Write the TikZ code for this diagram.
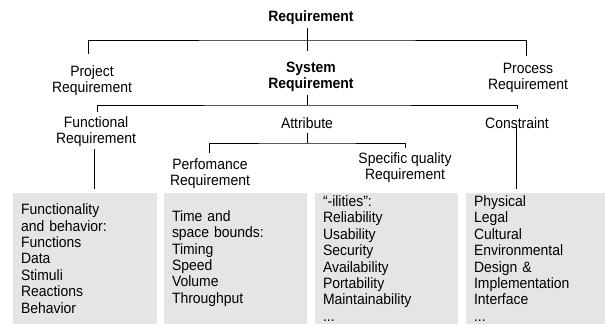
\documentclass[tikz,border=0pt]{standalone}
\usepackage{fontspec}
\setmainfont{Liberation Sans}[FakeStretch=0.93]
\usepackage{tikz}

\begin{document}
\begin{tikzpicture}[x=1pt, y=1pt, every node/.style={font=\fontsize{15}{16}\selectfont}, lbl/.style={align=center, inner sep=0pt}, hd/.style={lbl, font=\fontsize{15}{16}\selectfont\bfseries}, info/.style={fill=black!10, text width=127pt, inner xsep=8pt, inner ysep=0pt, minimum height=131pt, align=left, font=\fontsize{15}{16.4}\selectfont}, n/.style={line width=0.9pt}]
            \useasboundingbox (0,0) rectangle (605,-324);
            % nodes
            \node[hd] (req) at (311,-18) {Requirement};
            \node[lbl] (proj) at (92,-81) {Project\\Requirement};
            \node[hd] (sys) at (311,-77) {System\\Requirement};
            \node[lbl] (proc) at (528,-77.5) {Process\\Requirement};
            \node[lbl] (func) at (96,-132) {Functional\\Requirement};
            \node[lbl] (attr) at (307,-123) {Attribute};
            \node[lbl] (cons) at (517,-123) {Constraint};
            \node[lbl] (perf) at (210,-174) {Perfomance\\Requirement};
            \node[lbl] (spec) at (405,-168) {Specific quality\\Requirement};
            \node[info, text width=128pt] (fbox) at (85,-258.5) {Functionality\\and behavior:\\Functions\\Data\\Stimuli\\Reactions\\Behavior};
            \node[info] (pbox) at (235.5,-258.5) {Time and\\space bounds:\\Timing\\Speed\\Volume\\Throughput};
            \node[info] (qbox) at (386.5,-258.5) {“-ilities”:\\Reliability\\Usability\\Security\\Availability\\Portability\\Maintainability\\...};
            \node[info, text width=123pt] (cbox) at (535.5,-258.5) {Physical\\Legal\\Cultural\\Environmental\\Design \&\\Implementation\\Interface\\...};
            \coordinate (bar1) at (307,-40);
            \coordinate (bar2) at (307,-105);
            \coordinate (bar3) at (307,-143);
            % edges
            \draw [n, shorten <=3pt, shorten >=11pt] ([xshift=-4pt]req.south) -- ([xshift=-4pt]sys.north);
            \draw [n, shorten <=12pt, shorten >=7pt] ([xshift=-4pt]proj.north) |- (bar1) -| ([xshift=-2pt]proc.north);
            \draw [n, shorten <=3pt] ([xshift=-4pt]sys.south) -- (bar2);
            \draw [n, shorten <=5pt, shorten >=8pt] ([xshift=1pt]func.north) |- (bar2) -| (cons.north);
            \draw [n, shorten <=4pt] (attr.south) -- (bar3);
            \draw [n, shorten <=6pt, shorten >=5pt] ([xshift=-1pt]perf.north) |- (bar3) -| (spec.north);
            \draw [n, shorten <=2pt, shorten >=4pt] ([xshift=-2pt]func.south) -- ([xshift=-2pt]func.south |- fbox.north);
            \draw [n, shorten <=2pt, shorten >=4pt] ([xshift=-1pt]cons.center) -- ([xshift=-1pt]cons.center |- cbox.north);
        \end{tikzpicture}
\end{document}
